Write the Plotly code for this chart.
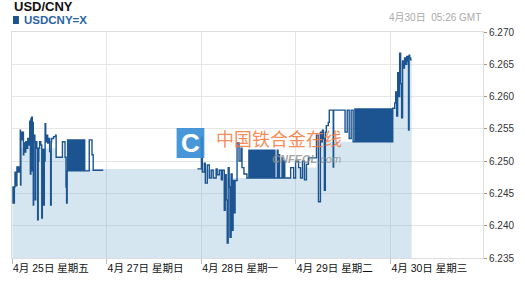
import plotly.graph_objects as go

# ---- data (x in hours from 4月25日 00:00, weekend compressed; y = USDCNY rate)
seg1_h = [0.1, 0.25, 0.4, 0.6, 0.75, 1.0, 1.25, 1.5, 1.75, 1.9,
          2.1, 2.15, 2.25, 2.5, 2.75, 2.9, 3.0, 3.25, 3.5, 3.75,
          4.0, 4.3, 4.5, 4.65, 4.8, 4.9, 5.0, 5.15, 5.3, 5.4,
          5.5, 5.8, 5.9, 6.0, 6.3, 6.5, 6.65, 6.8, 7.0, 7.3,
          7.55, 7.7, 7.8, 8.05, 8.2, 8.4, 8.55, 8.8, 9.05, 9.3,
          9.55, 9.8, 9.95, 10.05, 10.55, 11.05, 11.2, 12.8, 13.45, 13.7,
          13.85, 14.0,
          14.1, 14.25, 14.4, 14.55, 14.7, 14.85, 15.0, 15.15, 15.3, 15.45,
          15.6, 15.75, 15.9, 16.05, 16.2, 16.35, 16.5, 16.65, 16.8, 16.95,
          17.1, 17.25, 17.4, 17.55, 17.7, 17.85, 18.0, 18.15, 18.3, 18.45,
          19.6, 20.3, 20.6, 23.15]
seg1_v = [6.2435, 6.2460, 6.2435, 6.2460, 6.2483, 6.2462, 6.2491, 6.2483, 6.2491, 6.2483,
          6.2548, 6.2463, 6.2545, 6.2533, 6.2545, 6.2510, 6.2528, 6.2514, 6.2530, 6.2520,
          6.2535, 6.2525, 6.2562, 6.2480, 6.2566, 6.2500, 6.2568, 6.2485, 6.2560, 6.2432,
          6.2540, 6.2530, 6.2440, 6.2530, 6.2520, 6.2409, 6.2500, 6.2520, 6.2530, 6.2525,
          6.2412, 6.2510, 6.2518, 6.2432, 6.2500, 6.2558, 6.2530, 6.2540, 6.2528, 6.2535,
          6.2515, 6.2432, 6.2530, 6.2535, 6.2538, 6.2540, 6.2506, 6.2530, 6.2506, 6.2460,
          6.2435, 6.2485,
          6.2533, 6.2485, 6.2533, 6.2485, 6.2533, 6.2485, 6.2533, 6.2485, 6.2533, 6.2485,
          6.2533, 6.2485, 6.2533, 6.2485, 6.2533, 6.2485, 6.2533, 6.2485, 6.2533, 6.2485,
          6.2533, 6.2485, 6.2533, 6.2485, 6.2533, 6.2485, 6.2533, 6.2485, 6.2533, 6.2485,
          6.2533, 6.2510, 6.2486, 6.2486]

seg2_h = [47.05, 48.05, 48.3, 48.8, 49.05, 49.55, 50.05, 50.55, 51.05, 51.8,
          52.05, 52.6, 53.1, 53.35, 53.85, 54.1, 54.35, 54.6, 54.85, 55.1,
          55.3, 55.6, 55.85, 56.1, 56.35, 56.6, 57.1, 57.6, 58.1, 58.35,
          58.85, 59.6,
          60.1, 60.3, 60.5, 60.7, 60.9, 61.1, 61.3, 61.5, 61.7, 61.9,
          62.1, 62.3, 62.5, 62.7, 62.9, 63.1, 63.3, 63.5, 63.7, 63.9,
          64.1, 64.3, 64.5, 64.7, 64.9, 65.1, 65.3, 65.5, 65.7, 65.9,
          66.1, 66.3, 66.5, 66.7, 67.3, 67.5, 67.7, 67.9, 68.5, 68.7,
          69.0, 69.2, 70.7,
          71.45, 71.95, 72.7, 73.2, 73.7, 74.2, 74.7, 75.2, 77.25, 77.75,
          78.25, 78.5, 78.75, 79.0, 79.25, 79.5, 79.75, 80.25, 80.5, 81.5,
          81.6, 84.5, 85.05, 85.55, 86.05, 86.55,
          87.0, 87.15, 87.3, 87.45, 87.6, 87.75, 87.9, 88.05, 88.2, 88.35,
          88.5, 88.65, 88.8, 88.95, 89.1, 89.25, 89.4, 89.55, 89.7, 89.85,
          90.0, 90.15, 90.3, 90.45, 90.6, 90.75, 90.9, 91.05, 91.2, 91.35,
          91.5, 91.65, 91.8, 91.95, 92.1, 92.25, 92.4, 92.55, 92.7, 92.85,
          93.0, 93.15, 93.3, 93.45, 93.6, 93.75, 93.9, 94.05, 94.2, 94.35,
          94.5, 94.65, 94.8, 94.95, 95.1, 95.25, 95.4, 95.55, 95.7, 95.85,
          96.0, 96.15, 96.3, 96.45,
          96.6, 97.1, 97.35,
          97.6, 97.85, 98.1, 98.35, 98.6, 98.85, 99.1, 99.35, 99.6, 99.9,
          100.15, 100.4, 100.6, 100.75, 100.9, 101.15, 101.4]
seg2_v = [6.2488, 6.2537, 6.2483, 6.2497, 6.2466, 6.2494, 6.2474, 6.2486, 6.2474, 6.2488,
          6.2479, 6.2486, 6.2471, 6.2486, 6.2424, 6.2479, 6.2440, 6.2373, 6.2490, 6.2460,
          6.2382, 6.2480, 6.2393, 6.2470, 6.2420, 6.2470, 6.2528, 6.2500, 6.2520, 6.2490,
          6.2480, 6.2474,
          6.2517, 6.2474, 6.2517, 6.2474, 6.2517, 6.2474, 6.2517, 6.2474, 6.2517, 6.2474,
          6.2517, 6.2474, 6.2517, 6.2474, 6.2517, 6.2474, 6.2517, 6.2474, 6.2517, 6.2474,
          6.2517, 6.2474, 6.2517, 6.2474, 6.2517, 6.2474, 6.2517, 6.2474, 6.2517, 6.2474,
          6.2517, 6.2474, 6.2517, 6.2474, 6.2517, 6.2474, 6.2510, 6.2474, 6.2505, 6.2474,
          6.2500, 6.2474, 6.2490,
          6.2474, 6.2500, 6.2490, 6.2474, 6.2500, 6.2471, 6.2495, 6.2505, 6.2540, 6.2437,
          6.2545, 6.2530, 6.2548, 6.2535, 6.2455, 6.2545, 6.2555, 6.2560, 6.2579, 6.2491,
          6.2579, 6.2545, 6.2579, 6.2535, 6.2579, 6.2530,
          6.2581, 6.2530, 6.2581, 6.2530, 6.2581, 6.2530, 6.2581, 6.2530, 6.2581, 6.2530,
          6.2581, 6.2530, 6.2581, 6.2530, 6.2581, 6.2530, 6.2581, 6.2530, 6.2581, 6.2530,
          6.2581, 6.2530, 6.2581, 6.2530, 6.2581, 6.2530, 6.2581, 6.2530, 6.2581, 6.2530,
          6.2581, 6.2530, 6.2581, 6.2530, 6.2581, 6.2530, 6.2581, 6.2530, 6.2581, 6.2530,
          6.2581, 6.2530, 6.2581, 6.2530, 6.2581, 6.2530, 6.2581, 6.2530, 6.2581, 6.2530,
          6.2581, 6.2530, 6.2581, 6.2530, 6.2581, 6.2530, 6.2581, 6.2530, 6.2581, 6.2530,
          6.2581, 6.2530, 6.2581, 6.2530,
          6.2582, 6.2590, 6.2607,
          6.2570, 6.2637, 6.2600, 6.2667, 6.2620, 6.2567, 6.2655, 6.2644, 6.2660, 6.2650,
          6.2662, 6.2655, 6.2548, 6.2664, 6.2660, 6.2657, 6.2657]

fill_h = [0.1, 0.6, 2.1, 11.2, 14.0, 47.05, 53.85, 72.0, 77.25, 96.6,
          97.35, 97.85, 98.35, 99.35, 99.9, 100.4, 101.4]
fill_v = [6.2435, 6.2460, 6.2520, 6.2506, 6.2488, 6.2488, 6.2474, 6.2490, 6.2530, 6.2582,
          6.2607, 6.2637, 6.2652, 6.2644, 6.2652, 6.2657, 6.2657]

tick_hours = [0, 24, 48, 72, 96]
tick_labels = ["4月 25日 星期五", "4月 27日 星期日", "4月 28日 星期一",
               "4月 29日 星期二", "4月 30日 星期三"]
y_ticks = [6.235, 6.240, 6.245, 6.250, 6.255, 6.260, 6.265, 6.270]

LINE = "#1b5491"
FONT = "Arial, Liberation Sans, Noto Sans CJK SC, sans-serif"

line_x = seg1_h + [None] + seg2_h
line_y = seg1_v + [None] + seg2_v

fig = go.Figure()
fig.add_trace(go.Scatter(x=fill_h, y=fill_v, mode="lines", line=dict(width=0, shape="hv"),
                         fill="tozeroy", fillcolor="rgba(118,172,208,0.30)",
                         hoverinfo="skip", showlegend=False))
fig.add_trace(go.Scatter(x=line_x, y=line_y, mode="lines",
                         line=dict(color=LINE, width=1.4, shape="hv"),
                         connectgaps=False, showlegend=False))

W, H = 525, 291
L, R, T, B = 11, 39, 32, 33
pw, ph = W - L - R, H - T - B


def px(x):
    return (x - L) / pw


def py(y):
    return (H - B - y) / ph


fig.update_layout(
    width=W, height=H,
    margin=dict(l=L, r=R, t=T, b=B, pad=0),
    paper_bgcolor="white", plot_bgcolor="white",
    font=dict(family=FONT, size=10, color="#333"),
    showlegend=False,
    hovermode=False,
    xaxis=dict(range=[0, 119.5], tickvals=tick_hours, ticktext=tick_labels,
               ticklabelposition="outside right", ticks="outside", ticklen=5,
               tickcolor="#bbbbbb", tickfont=dict(size=10.5, color="#111", family=FONT),
               showgrid=True, gridcolor="#e6e6e6", gridwidth=1,
               showline=True, linecolor="#dddddd", mirror=True, zeroline=False),
    yaxis=dict(range=[6.235, 6.270], tickvals=y_ticks, tickformat=".3f", side="right",
               ticks="outside", ticklen=3, tickcolor="#999999",
               tickfont=dict(size=10, color="#333", family=FONT),
               showgrid=True, gridcolor="#e6e6e6", gridwidth=1,
               showline=True, linecolor="#dddddd", mirror=True, zeroline=False),
)

ann = []
ann.append(dict(text="<b>USD/CNY</b>", x=px(11), y=py(6), xref="paper", yref="paper",
                xanchor="left", yanchor="middle", showarrow=False,
                font=dict(size=13, color="#111", family=FONT)))
ann.append(dict(text="<b>USDCNY=X</b>", x=px(21), y=py(20), xref="paper", yref="paper",
                xanchor="left", yanchor="middle", showarrow=False,
                font=dict(size=11.5, color="#2a64a4", family=FONT)))
ann.append(dict(text="4月30日  05:26 GMT", x=px(486), y=py(18), xref="paper", yref="paper",
                xanchor="right", yanchor="middle", showarrow=False,
                font=dict(size=10, color="#aaaaaa", family=FONT)))
# watermark
ann.append(dict(text="<b>C</b>", x=px(191), y=py(143), xref="paper", yref="paper",
                xanchor="center", yanchor="middle", showarrow=False,
                font=dict(size=26, color="white", family=FONT)))
ann.append(dict(text="中国铁合金在线", x=px(280), y=py(138), xref="paper", yref="paper",
                xanchor="center", yanchor="middle", showarrow=False,
                font=dict(size=18, color="rgba(242,120,58,0.85)", family="Noto Sans CJK SC")))
ann.append(dict(text="<b><i>CNFEOL</i></b><i>.com</i>", x=px(308), y=py(159), xref="paper", yref="paper",
                xanchor="center", yanchor="middle", showarrow=False,
                font=dict(size=11, color="rgba(140,140,140,0.8)", family=FONT)))
fig.update_layout(annotations=ann)

fig.update_layout(shapes=[
    dict(type="rect", xref="paper", yref="paper", x0=px(12), x1=px(18), y0=py(24), y1=py(16),
         fillcolor=LINE, line=dict(width=0)),
    dict(type="rect", xref="paper", yref="paper", x0=px(177), x1=px(205), y0=py(158), y1=py(128),
         fillcolor="rgba(52,140,212,0.9)", line=dict(width=0), layer="above"),
])

fig.write_html("out.html", config={"displayModeBar": False})
